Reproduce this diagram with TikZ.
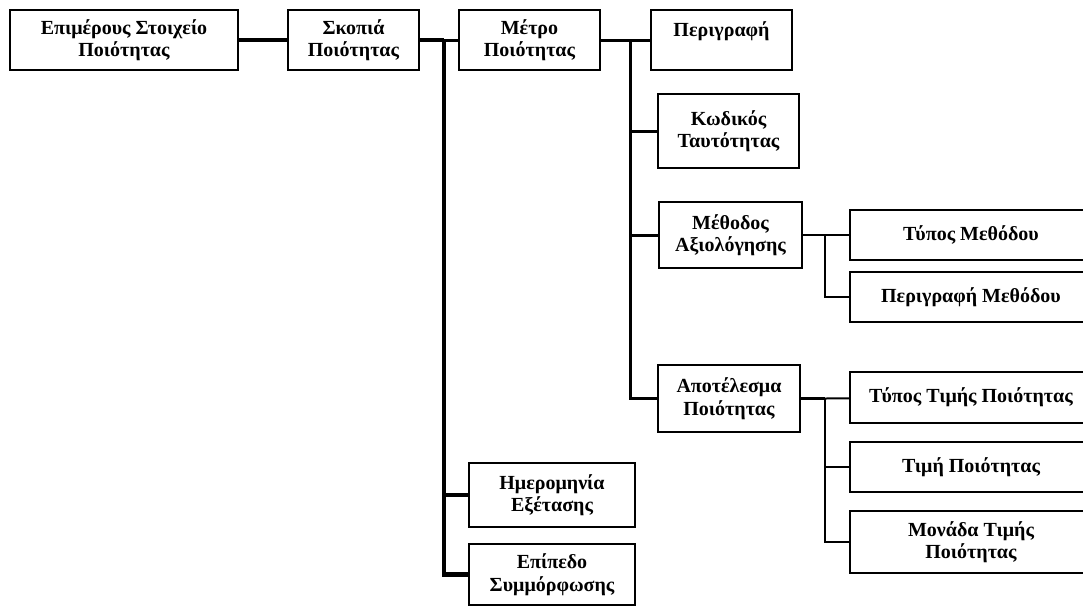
\documentclass[tikz,border=0pt]{standalone}
\usepackage{fontspec}
\setmainfont{Liberation Serif}
\usepackage{tikz}
\usetikzlibrary{calc, positioning}

\tikzset{
  qbox/.style={draw, line width=1.6pt, fill=white, align=center, inner sep=0pt,
    font=\bfseries\fontsize{20}{22.5}\selectfont},
  heavy/.style={line width=4.5pt},
  midline/.style={line width=3pt},
  lightline/.style={line width=2pt}
}

\begin{document}
\begin{tikzpicture}[x=1pt, y=-1pt]
  \useasboundingbox (0,0) rectangle (1083,606);
  % main chain
  \node[qbox, minimum width=228pt, minimum height=60pt] (epimerous) at (124,40) {Επιμέρους Στοιχείο\\Ποιότητας};
  \node[qbox, minimum width=131pt, minimum height=60pt] (skopia) at (353.5,40) {Σκοπιά\\Ποιότητας};
  \node[qbox, minimum width=141pt, minimum height=60pt] (metro) at (529.5,40) {Μέτρο\\Ποιότητας};
  % children of the measure
  \node[qbox, minimum width=141pt, minimum height=60pt] (perigrafi) at (721.5,40) {Περιγραφή\\[0pt]~};
  \node[qbox, minimum width=141pt, minimum height=74pt] (kodikos) at (728.5,131) {Κωδικός\\Ταυτότητας};
  \node[qbox, minimum width=143pt, minimum height=66pt] (methodos) at (730.5,235) {Μέθοδος\\Αξιολόγησης};
  \node[qbox, minimum width=142pt, minimum height=67pt] (apotelesma) at (729,398.5) {Αποτέλεσμα\\Ποιότητας};
  % method details
  \node[qbox, minimum width=242pt, minimum height=50pt] (typosM) at (971,235) {Τύπος Μεθόδου};
  \node[qbox, minimum width=242pt, minimum height=50pt] (perigM) at (971,297) {Περιγραφή Μεθόδου};
  % result details
  \node[qbox, minimum width=242pt, minimum height=51pt] (typosT) at (971,397.5) {Τύπος Τιμής Ποιότητας};
  \node[qbox, minimum width=242pt, minimum height=50pt] (timi) at (971,467) {Τιμή Ποιότητας};
  \node[qbox, minimum width=242pt, minimum height=62pt] (monada) at (971,542) {Μονάδα Τιμής\\Ποιότητας};
  % children of the viewpoint
  \node[qbox, minimum width=166pt, minimum height=64pt] (imerominia) at (552,495) {Ημερομηνία\\Εξέτασης};
  \node[qbox, minimum width=166pt, minimum height=61pt] (epipedo) at (552,574.5) {Επίπεδο\\Συμμόρφωσης};

  % junctions
  \coordinate (jS) at (444,40);
  \coordinate (jM) at (630,40);
  \coordinate (jA) at (825,235);
  \coordinate (jR) at (825,398.5);

  \draw[heavy] (epimerous) -- (skopia);
  \draw[heavy] (skopia) -- (jS);
  \draw[heavy] (jS) -- (jS |- epipedo.west) -- (epipedo.west);
  \draw[heavy] (jS |- imerominia.west) -- (imerominia.west);
  \draw[midline] (jS) -- (metro);

  \draw[midline] (metro) -- (jM);
  \draw[midline] (jM) -- (jM |- apotelesma.west) -- (apotelesma.west);
  \draw[midline] (jM) -- (perigrafi);
  \draw[midline] (jM |- kodikos.west) -- (kodikos.west);
  \draw[midline] (jM |- methodos.west) -- (methodos.west);

  \draw[lightline] (methodos) -- (jA) -- (typosM);
  \draw[lightline] (jA) |- (perigM.west);

  \draw[midline] (apotelesma) -- (jR);
  \draw[lightline] (jR) -- (typosT);
  \draw[lightline] (jR) |- (timi.west);
  \draw[lightline] (jR) |- (monada.west);
\end{tikzpicture}
\end{document}
